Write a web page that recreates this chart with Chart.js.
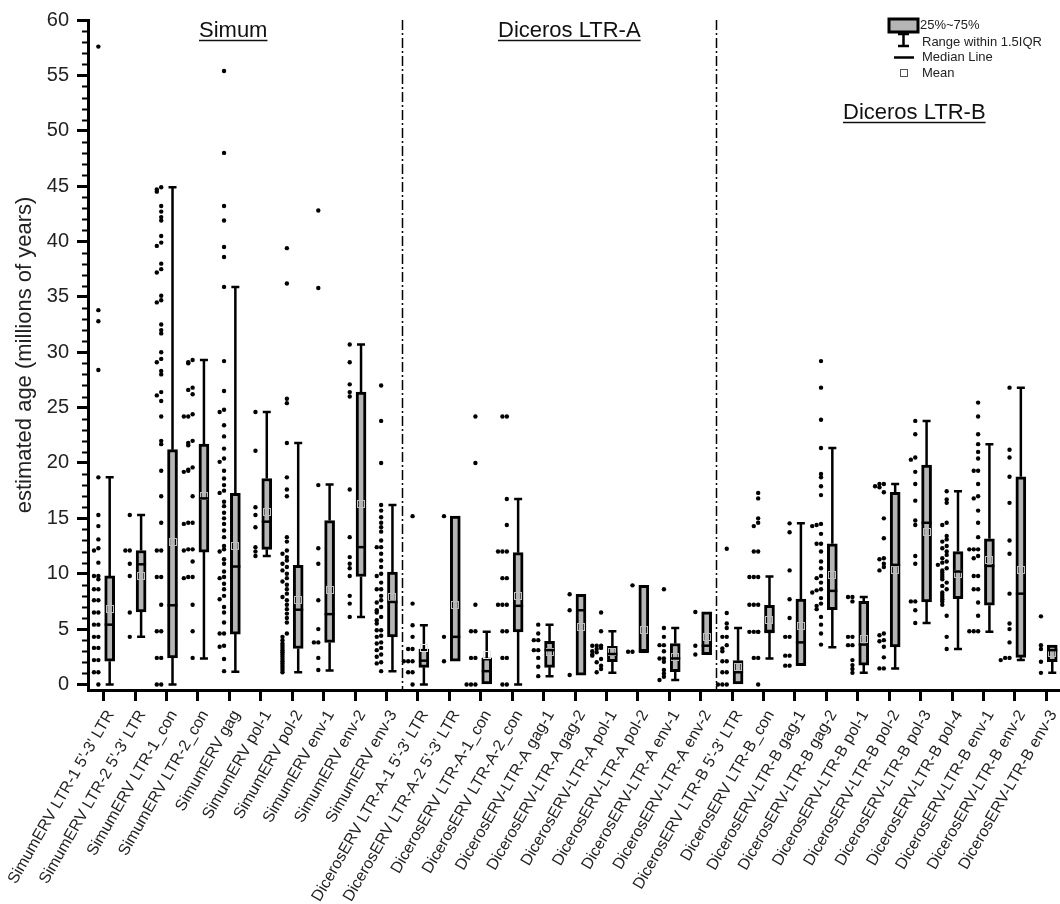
<!DOCTYPE html>
<html>
<head>
<meta charset="utf-8">
<script src="https://cdn.jsdelivr.net/npm/chart.js@4.4.1/dist/chart.umd.min.js"></script>
<style>
  html, body { margin: 0; padding: 0; background: #fff; overflow: hidden; }
  #wrap { width: 1060px; height: 904px; overflow: hidden; position: relative; }
  #chart { display: block; }
</style>
</head>
<body>
<div id="wrap"><canvas id="chart" width="1066" height="904"></canvas></div>
<script>
// Kategorien (x-Achse)
var categories = [
    "SimumERV LTR-1 5'-3' LTR", "SimumERV LTR-2 5'-3' LTR", "SimumERV LTR-1_con", "SimumERV LTR-2_con",
    "SimumERV gag", "SimumERV pol-1", "SimumERV pol-2", "SimumERV env-1", "SimumERV env-2", "SimumERV env-3",
    "DicerosERV LTR-A-1 5'-3' LTR", "DicerosERV LTR-A-2 5'-3' LTR", "DicerosERV LTR-A-1_con", "DicerosERV LTR-A-2_con",
    "DicerosERV-LTR-A gag-1", "DicerosERV-LTR-A gag-2", "DicerosERV-LTR-A pol-1", "DicerosERV-LTR-A pol-2",
    "DicerosERV-LTR-A env-1", "DicerosERV-LTR-A env-2",
    "DicerosERV LTR-B 5'-3' LTR", "DicerosERV LTR-B_con", "DicerosERV-LTR-B gag-1", "DicerosERV-LTR-B gag-2",
    "DicerosERV-LTR-B pol-1", "DicerosERV-LTR-B pol-2", "DicerosERV-LTR-B pol-3", "DicerosERV-LTR-B pol-4",
    "DicerosERV-LTR-B env-1", "DicerosERV-LTR-B env-2", "DicerosERV-LTR-B env-3"
];

// Boxplot-Kennwerte (Millionen Jahre)
var q1 = [2.1, 6.55, 2.4, 11.95, 4.55, 12.2, 3.25, 3.8, 9.75, 4.3,
          1.55, 2.1, 0, 4.75, 1.55, 0.85, 2.05, 2.95, 1.15, 2.7,
          0, 4.7, 1.7, 6.75, 1.75, 3.4, 7.45, 7.75, 7.15, 2.45, 2.05];
var medians = [5.4, 10.85, 7.15, 16.8, 10.65, 14.7, 6.75, 6.35, 12.4, 7.45,
               2.15, 4.3, 1.2, 7.1, 3.1, 6.7, 2.75, 2.95, 2.35, 3.5,
               1.1, 4.75, 3.8, 8.45, 3.6, 10.8, 14.6, 10.2, 10.7, 8.2, 3.1];
var q3 = [9.8, 12.1, 21.2, 21.7, 17.25, 18.6, 10.75, 14.8, 26.4, 10.15,
          3.2, 15.2, 2.4, 11.9, 3.9, 8.15, 3.45, 8.95, 3.7, 6.55,
          2.15, 7.15, 7.7, 12.7, 7.5, 17.35, 19.8, 12.0, 13.15, 18.75, 3.55];
var whiskerLow = [0, 4.3, 0, 2.35, 1.15, 11.6, 1.1, 1.25, 6.1, 1.2,
                  0, 2.1, 0, 0, 0.75, 0.85, 1.05, 2.95, 0.4, 2.7,
                  0, 2.35, 1.7, 3.35, 1.05, 1.45, 5.55, 3.2, 4.75, 2.2, 1.05];
var whiskerHigh = [18.7, 15.3, 44.9, 29.3, 35.9, 24.6, 21.8, 18.05, 30.7, 16.2,
                   5.35, 15.2, 4.75, 16.75, 5.4, 8.15, 4.8, 8.95, 5.1, 6.55,
                   5.1, 9.75, 14.55, 21.35, 7.9, 18.1, 23.8, 17.45, 21.7, 26.8, 3.55];
var means = [6.8, 9.8, 12.9, 17.0, 12.5, 15.6, 7.6, 8.5, 16.3, 7.9,
             3.3, 7.2, 2.7, 8.0, 2.9, 5.2, 2.9, 4.95, 2.5, 4.25,
             1.6, 5.8, 5.3, 9.9, 4.1, 10.3, 13.8, 10.0, 11.2, 10.3, 2.8];

// Einzelwerte je Kategorie
var points = [
    [57.6, 33.8, 32.8, 28.4, 18.7, 15.3, 14.3, 13.1, 12.3, 12.1, 11.0, 9.8, 9.8, 9.5, 8.6, 8.6, 7.6, 7.6, 6.5, 6.5, 5.4, 5.4, 4.3, 4.3, 3.3, 3.3, 2.2, 2.2, 1.1, 1.1, 0],
    [15.3, 12.1, 12.1, 10.9, 9.8, 6.5, 4.3],
    [44.9, 44.7, 44.5, 43.2, 42.7, 42.2, 41.9, 40.5, 39.9, 39.6, 38.0, 37.5, 37.2, 35.1, 34.7, 34.5, 32.5, 32.0, 31.7, 30.0, 29.4, 29.1, 28.3, 28.0, 26.4, 26.1, 25.6, 24.2, 22.0, 21.7, 19.3, 17.0, 14.6, 12.1, 12.1, 9.7, 9.7, 7.2, 4.8, 4.8, 2.4, 2.4, 0, 0],
    [29.3, 29.1, 29.0, 26.8, 26.6, 26.2, 24.4, 24.2, 24.2, 22.0, 21.8, 21.6, 19.6, 19.4, 19.3, 19.2, 17.0, 14.6, 14.6, 14.5, 12.2, 12.2, 12.1, 11.1, 9.7, 9.7, 9.6, 7.2, 4.8, 2.4],
    [55.4, 48.0, 43.2, 41.9, 39.5, 38.6, 35.9, 29.2, 26.5, 24.8, 24.6, 23.4, 22.4, 21.3, 20.4, 20.1, 19.3, 18.6, 18.0, 17.5, 17.3, 16.5, 16.1, 15.5, 15.0, 14.5, 13.9, 13.3, 12.5, 12.2, 12.0, 11.3, 10.9, 10.2, 9.7, 9.6, 9.1, 8.6, 8.0, 7.7, 7.0, 6.5, 5.6, 4.6, 4.6, 3.5, 3.4, 2.3, 1.2],
    [24.6, 21.1, 16.0, 15.3, 14.2, 12.4, 12.0, 11.6],
    [39.4, 36.2, 25.8, 25.4, 21.8, 18.7, 17.6, 17.0, 13.3, 12.9, 12.1, 11.8, 11.5, 11.2, 10.9, 10.6, 10.3, 10.0, 9.6, 9.3, 9.0, 8.6, 8.2, 7.9, 7.6, 7.2, 6.8, 6.4, 6.0, 5.6, 4.6, 4.3, 4.0, 3.7, 3.5, 3.3, 3.1, 2.9, 2.7, 2.5, 2.3, 2.1, 1.9, 1.7, 1.5, 1.3, 1.1],
    [42.8, 35.8, 18.0, 12.3, 10.9, 7.6, 5.0, 3.8, 3.8, 2.4, 1.3],
    [30.7, 29.1, 27.1, 26.4, 26.0, 17.6, 13.3, 11.5, 10.9, 10.5, 9.8, 8.0, 7.3, 6.1],
    [27.0, 23.8, 20.0, 16.2, 15.7, 15.1, 14.6, 14.2, 13.8, 13.0, 12.4, 12.4, 11.8, 11.2, 10.6, 10.0, 9.8, 9.2, 8.6, 8.6, 8.0, 7.6, 7.4, 7.0, 6.7, 6.5, 6.1, 5.8, 5.5, 4.9, 4.9, 4.4, 4.3, 3.8, 3.7, 3.3, 3.1, 2.7, 2.5, 2.0, 1.9, 1.2],
    [15.2, 7.3, 5.35, 4.3, 3.2, 3.2, 2.1, 2.1, 2.1, 1.1, 1.1, 0],
    [15.2, 4.3, 2.1],
    [24.2, 20.0, 7.2, 4.8, 4.8, 2.4, 2.4, 0, 0, 0],
    [24.2, 24.2, 16.75, 14.4, 12.0, 12.0, 12.0, 9.6, 9.6, 7.2, 7.2, 7.2, 4.8, 4.8, 2.4, 2.4, 0, 0],
    [5.4, 4.6, 4.0, 4.0, 3.1, 3.1, 2.4, 1.6, 0.75],
    [8.15, 6.7, 0.85],
    [6.5, 4.8, 3.5, 3.5, 3.5, 3.3, 3.2, 3.0, 2.9, 2.7, 2.6, 2.3, 2.0, 1.7, 1.4, 1.1],
    [8.95, 2.95, 2.95],
    [8.6, 5.1, 4.3, 3.55, 3.55, 3.0, 2.35, 2.35, 2.05, 1.3, 1.0, 0.7, 0.4],
    [6.55, 3.5, 2.7],
    [12.25, 6.45, 5.5, 5.1, 4.3, 4.3, 3.55, 3.25, 3.0, 2.1, 2.1, 1.1, 1.1, 0, 0, 0],
    [17.3, 16.8, 15.0, 14.6, 14.3, 12.0, 12.0, 9.7, 9.7, 9.7, 7.2, 7.2, 7.2, 4.75, 4.75, 4.75, 4.75, 2.4, 2.4, 0],
    [14.55, 13.75, 10.3, 7.7, 6.0, 4.3, 4.3, 2.6, 2.6, 1.7, 1.7],
    [29.2, 26.8, 23.9, 21.35, 19.0, 18.7, 17.9, 17.1, 14.5, 14.4, 14.3, 13.6, 12.7, 12.7, 12.0, 11.1, 10.5, 9.8, 9.6, 9.2, 8.6, 8.5, 8.3, 7.8, 7.3, 7.1, 6.8, 6.1, 5.4, 4.6, 3.6],
    [7.9, 7.9, 7.5, 4.3, 4.3, 3.55, 3.55, 2.2, 1.75, 1.4, 1.05],
    [18.1, 18.1, 17.9, 17.8, 17.35, 15.0, 13.2, 11.4, 11.3, 10.9, 10.6, 10.3, 4.6, 4.45, 4.0, 3.9, 3.4, 2.45, 1.45, 1.45],
    [23.8, 22.6, 20.5, 20.3, 19.2, 18.1, 16.6, 14.8, 14.4, 11.6, 10.9, 7.5, 7.5, 6.7, 5.55],
    [17.45, 16.7, 16.4, 14.6, 14.4, 13.4, 13.1, 12.9, 12.5, 12.3, 12.0, 11.7, 11.4, 11.1, 11.0, 10.8, 10.5, 10.3, 10.1, 9.9, 9.7, 9.5, 9.2, 8.9, 8.6, 8.3, 8.1, 7.9, 7.7, 7.5, 7.2, 6.2, 4.3, 3.2],
    [25.45, 24.2, 22.6, 21.7, 21.0, 20.4, 19.3, 19.3, 18.1, 17.0, 16.8, 15.7, 14.6, 13.3, 12.2, 12.2, 12.2, 11.6, 11.4, 9.8, 9.8, 8.6, 8.6, 7.4, 6.2, 4.8, 4.8, 4.8],
    [26.8, 21.2, 20.5, 18.75, 16.4, 13.0, 11.8, 8.2, 5.5, 5.0, 3.8, 2.4, 2.4, 2.2],
    [6.15, 3.55, 3.2, 2.05, 1.05]
];

// Gruppen und Achsenbeschriftung
var groupNames = ['Simum', 'Diceros LTR-A', 'Diceros LTR-B'];
var groupBreaks = [9.5, 19.5];
var yTickValues = [0, 5, 10, 15, 20, 25, 30, 35, 40, 45, 50, 55, 60];
var legendTexts = ['25%~75%', 'Range within 1.5IQR', 'Median Line', 'Mean'];

var FONT = "'Liberation Sans', Arial, sans-serif";
var BOX_SHIFT = 0.19;
var BOX_FILL = '#b5b5b5';

// Punkte neben der Box, gleiche Werte nebeneinander
function spreadPoints(values, i) {
    var placed = [];
    return values.map(function(v) {
        var k = placed.filter(function(p) { return Math.abs(p - v) < 0.3; }).length;
        placed.push(v);
        return { x: i - 0.17 - 0.14 * (k % 3), y: v };
    });
}

var scatterData = [];
points.forEach(function(vals, i) {
    scatterData = scatterData.concat(spreadPoints(vals, i));
});

var boxData = categories.map(function(c, i) {
    return { x: i + BOX_SHIFT, y: [q1[i], q3[i]] };
});

var boxParts = {
    id: 'boxParts',
    beforeDatasetsDraw: function(chart) {
        var ctx = chart.ctx, xs = chart.scales.x, ys = chart.scales.y;
        ctx.save();
        ctx.strokeStyle = '#000';
        ctx.lineWidth = 2.5;
        categories.forEach(function(c, i) {
            var x = xs.getPixelForValue(i + BOX_SHIFT);
            if (whiskerHigh[i] > q3[i]) {
                var yh = ys.getPixelForValue(whiskerHigh[i]);
                ctx.beginPath();
                ctx.moveTo(x, ys.getPixelForValue(q3[i]));
                ctx.lineTo(x, yh);
                ctx.moveTo(x - 4, yh);
                ctx.lineTo(x + 4, yh);
                ctx.stroke();
            }
            if (whiskerLow[i] < q1[i]) {
                var yl = ys.getPixelForValue(whiskerLow[i]);
                ctx.beginPath();
                ctx.moveTo(x, ys.getPixelForValue(q1[i]));
                ctx.lineTo(x, yl);
                ctx.moveTo(x - 4, yl);
                ctx.lineTo(x + 4, yl);
                ctx.stroke();
            }
        });
        ctx.restore();
    },
    afterDatasetsDraw: function(chart) {
        var ctx = chart.ctx, xs = chart.scales.x, ys = chart.scales.y;
        var area = chart.chartArea;
        ctx.save();
        // Mittelwerte (blasses Quadrat)
        ctx.lineWidth = 1;
        categories.forEach(function(c, i) {
            var x = xs.getPixelForValue(i + BOX_SHIFT);
            var y = ys.getPixelForValue(means[i]);
            var inside = means[i] > q1[i] && means[i] < q3[i];
            ctx.strokeStyle = inside ? '#bdbdbd' : '#e2e2e2';
            ctx.strokeRect(Math.round(x) - 3.5, Math.round(y) - 3.5, 7, 7);
        });
        // Mediane
        ctx.strokeStyle = '#000';
        ctx.lineWidth = 2.5;
        categories.forEach(function(c, i) {
            var x = xs.getPixelForValue(i + BOX_SHIFT);
            var y = ys.getPixelForValue(medians[i]);
            ctx.beginPath();
            ctx.moveTo(x - 5, y);
            ctx.lineTo(x + 5, y);
            ctx.stroke();
        });
        // Trennlinien zwischen den Gruppen
        ctx.lineWidth = 1.5;
        ctx.setLineDash([10, 3, 2, 3]);
        groupBreaks.forEach(function(b) {
            var x = Math.round(xs.getPixelForValue(b)) + 0.5;
            ctx.beginPath();
            ctx.moveTo(x, area.top);
            ctx.lineTo(x, area.bottom);
            ctx.stroke();
        });
        ctx.setLineDash([]);
        // kleine Teilstriche y-Achse
        ctx.lineWidth = 2;
        for (var v = 1; v < 60; v++) {
            if (v % 5 === 0) continue;
            var ym = Math.round(ys.getPixelForValue(v)) + 0.5;
            ctx.beginPath();
            ctx.moveTo(area.left - 6, ym);
            ctx.lineTo(area.left, ym);
            ctx.stroke();
        }
        ctx.restore();
    },
    afterDraw: function(chart) {
        var ctx = chart.ctx;
        ctx.save();
        // Gruppentitel, unterstrichen
        var titlePos = [[199, 37], [498, 37], [843, 119]];
        ctx.fillStyle = '#111';
        ctx.strokeStyle = '#111';
        ctx.font = '22px ' + FONT;
        ctx.textBaseline = 'alphabetic';
        ctx.textAlign = 'left';
        ctx.lineWidth = 1.5;
        groupNames.forEach(function(name, g) {
            var p = titlePos[g];
            var w = ctx.measureText(name).width;
            ctx.fillText(name, p[0], p[1]);
            ctx.beginPath();
            ctx.moveTo(p[0], p[1] + 3.5);
            ctx.lineTo(p[0] + w, p[1] + 3.5);
            ctx.stroke();
        });
        // Legende
        ctx.fillStyle = BOX_FILL;
        ctx.fillRect(889, 19, 29, 13);
        ctx.strokeStyle = '#000';
        ctx.lineWidth = 3;
        ctx.strokeRect(889, 19, 29, 13);
        ctx.lineWidth = 2.5;
        ctx.beginPath();
        ctx.moveTo(903.5, 33); ctx.lineTo(903.5, 46);
        ctx.moveTo(898, 34); ctx.lineTo(909, 34);
        ctx.moveTo(898, 46); ctx.lineTo(909, 46);
        ctx.moveTo(894, 57.5); ctx.lineTo(914, 57.5);
        ctx.stroke();
        ctx.lineWidth = 1;
        ctx.strokeStyle = '#555';
        ctx.strokeRect(900.5, 69.5, 7, 7);
        ctx.fillStyle = '#222';
        ctx.font = '13px ' + FONT;
        ctx.textBaseline = 'middle';
        ctx.fillText(legendTexts[0], 920, 25);
        ctx.fillText(legendTexts[1], 922, 42);
        ctx.fillText(legendTexts[2], 922, 57.5);
        ctx.fillText(legendTexts[3], 922, 73);
        ctx.restore();
    }
};

var ctx = document.getElementById('chart').getContext('2d');
new Chart(ctx, {
    type: 'bar',
    data: {
        datasets: [{
            type: 'bar',
            data: boxData,
            backgroundColor: BOX_FILL,
            borderColor: '#000',
            borderWidth: 3,
            borderSkipped: false,
            barThickness: 10,
            order: 2
        }, {
            type: 'scatter',
            data: scatterData,
            pointRadius: 2.2,
            pointBackgroundColor: '#000',
            pointBorderWidth: 0,
            order: 1
        }]
    },
    options: {
        responsive: false,
        animation: false,
        layout: { padding: { top: 17, right: 1.5, left: 0, bottom: 0 } },
        plugins: {
            legend: { display: false },
            tooltip: { enabled: false }
        },
        scales: {
            x: {
                type: 'linear',
                offset: false,
                min: -0.5,
                max: 30.5,
                afterBuildTicks: function(scale) {
                    scale.ticks = categories.map(function(c, i) { return { value: i }; });
                },
                afterFit: function(scale) {
                    scale.height = 214;
                    scale.paddingLeft = 0;
                    scale.paddingRight = 0;
                },
                grid: { offset: false, drawOnChartArea: false, tickLength: 11, tickWidth: 3, tickColor: '#000' },
                border: { display: true, color: '#000', width: 3 },
                ticks: {
                    autoSkip: false,
                    minRotation: 60,
                    maxRotation: 60,
                    padding: 6,
                    labelOffset: 7,
                    color: '#222',
                    font: { family: FONT, size: 16 },
                    callback: function(value) { return categories[value]; }
                }
            },
            y: {
                min: -0.5,
                max: 60,
                afterBuildTicks: function(scale) {
                    scale.ticks = yTickValues.map(function(v) { return { value: v }; });
                },
                afterFit: function(scale) {
                    scale.width = 88;
                },
                grid: { drawOnChartArea: false, tickLength: 11, tickWidth: 3, tickColor: '#000' },
                border: { display: true, color: '#000', width: 3 },
                ticks: {
                    padding: 8,
                    color: '#222',
                    font: { family: FONT, size: 20 }
                },
                title: {
                    display: true,
                    text: 'estimated age (millions of years)',
                    color: '#222',
                    font: { family: FONT, size: 22 },
                    padding: { top: 12, bottom: 0 }
                }
            }
        }
    },
    plugins: [boxParts]
});
</script>
</body>
</html>
